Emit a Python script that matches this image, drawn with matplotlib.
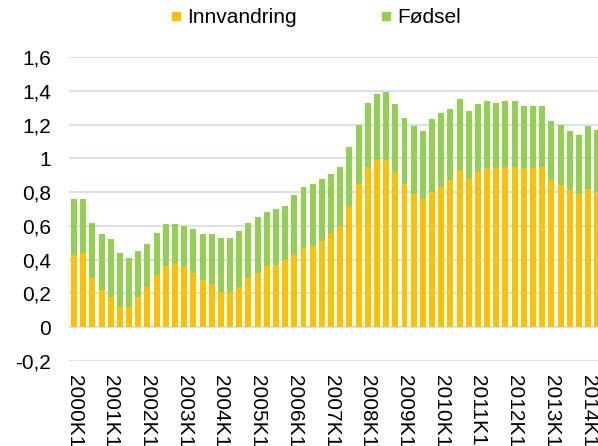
import numpy as np
import matplotlib
matplotlib.use('Agg')
import matplotlib.pyplot as plt
from matplotlib.lines import Line2D

plt.rcParams['font.family'] = ['Liberation Sans', 'DejaVu Sans']

# quarterly contributions, 2000K1 .. 2014K2
years = list(range(2000, 2015))
quarters = [f'{y}K{q}' for y in years for q in range(1, 5)][:58]

innvandring = [0.43, 0.44, 0.29, 0.22, 0.18, 0.12, 0.12, 0.18, 0.24, 0.31,
               0.36, 0.38, 0.36, 0.32, 0.28, 0.25, 0.21, 0.21, 0.24, 0.29,
               0.32, 0.36, 0.37, 0.40, 0.43, 0.47, 0.48, 0.51, 0.56, 0.60,
               0.72, 0.85, 0.95, 0.99, 0.99, 0.92, 0.85, 0.79, 0.76, 0.80,
               0.83, 0.87, 0.93, 0.88, 0.92, 0.94, 0.94, 0.95, 0.95, 0.94,
               0.94, 0.95, 0.87, 0.84, 0.81, 0.79, 0.82, 0.80]
fodsel = [0.33, 0.32, 0.33, 0.33, 0.34, 0.32, 0.29, 0.27, 0.25, 0.25,
          0.25, 0.23, 0.24, 0.26, 0.27, 0.30, 0.32, 0.32, 0.33, 0.33,
          0.33, 0.32, 0.33, 0.32, 0.35, 0.36, 0.37, 0.37, 0.35, 0.35,
          0.35, 0.35, 0.38, 0.39, 0.40, 0.40, 0.39, 0.40, 0.40, 0.43,
          0.44, 0.42, 0.42, 0.40, 0.40, 0.40, 0.39, 0.39, 0.39, 0.37,
          0.37, 0.36, 0.35, 0.36, 0.35, 0.35, 0.37, 0.37]

orange = '#FFC000'
green = '#92D050'

fig = plt.figure(figsize=(5.98, 4.46), dpi=100)
ax = fig.add_axes([0.1154, 0.1906, 0.8846, 0.6816])

x = np.arange(len(quarters))
ax.bar(x, innvandring, width=0.65, color=orange, zorder=2)
ax.bar(x, fodsel, width=0.65, bottom=innvandring, color=green, zorder=2)

ax.set_ylim(-0.2, 1.6)
ax.set_xlim(-0.545, 57.08)
yt = np.arange(-0.2, 1.61, 0.2)
ax.set_yticks(yt)
ax.set_yticklabels([('%.1f' % v).replace('.', ',').replace(',0', '') if abs(v - round(v)) < 1e-9 else ('%.1f' % v).replace('.', ',') for v in yt])
ax.set_xticks(x[::4])
ax.set_xticklabels(quarters[::4], rotation=270, ha='center', va='top')
ax.tick_params(axis='y', length=0, pad=13, labelsize=15)
ax.tick_params(axis='x', length=0, pad=10, labelsize=15)
ax.grid(axis='y', color='#D9E1EE', linewidth=1.5, zorder=0)
for s in ax.spines.values():
    s.set_visible(False)

handles = [Line2D([], [], marker='s', linestyle='none', color=orange, markersize=6),
           Line2D([], [], marker='s', linestyle='none', color=green, markersize=6)]
fig.legend(handles, ['Innvandring', 'Fødsel'], loc='center', bbox_to_anchor=(0.528, 0.96),
           ncol=2, frameon=False, fontsize=15, handlelength=0.5, handletextpad=0.3,
           columnspacing=4.0, borderpad=0)

fig.savefig('out.png', dpi=100)
